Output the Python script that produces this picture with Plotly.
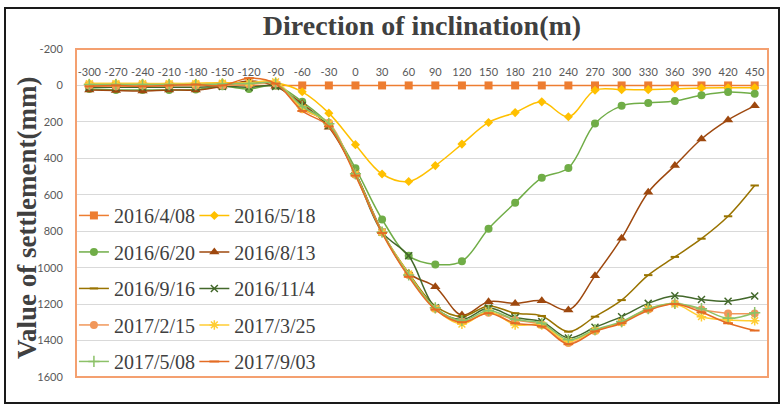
import plotly.graph_objects as go

x_cats = [-300, -270, -240, -210, -180, -150, -120, -90, -60, -30, 0, 30, 60, 90,
          120, 150, 180, 210, 240, 270, 300, 330, 360, 390, 420, 450]

s_20160408 = [0] * 26
s_20160518 = [-10, -10, -10, -10, -12, -15, -15, -15, 35, 152, 325, 486, 527, 440,
              322, 203, 149, 90, 172, 26, 23, 23, 19, 14, 13, 13]
s_20160620 = [20, 25, 25, 25, 22, 5, 20, 0, 90, 215, 455, 735, 935, 982,
              965, 786, 644, 507, 453, 209, 112, 96, 85, 54, 36, 45]
s_20160813 = [25, 28, 30, 25, 25, 5, -25, 5, 100, 230, 480, 800, 1030, 1105,
              1260, 1187, 1196, 1181, 1232, 1045, 838, 586, 440, 294, 189, 112]
s_20160916 = [-5, -5, -5, -5, -8, -10, -10, -10, 120, 215, 480, 805, 1030, 1210,
              1268, 1210, 1250, 1265, 1351, 1269, 1178, 1041, 941, 841, 718, 549]
s_20161104 = [10, 10, 10, 10, 10, 5, 10, 5, 110, 220, 485, 805, 935, 1220,
              1284, 1222, 1274, 1296, 1386, 1327, 1269, 1196, 1154, 1175, 1184, 1156]
s_20170215 = [0, 5, 0, 0, 0, 0, -5, -10, 130, 205, 490, 805, 1040, 1225,
              1297, 1247, 1287, 1314, 1414, 1348, 1300, 1230, 1196, 1230, 1251, 1251]
s_20170325 = [-10, -10, -10, -10, -10, -12, -15, -20, 125, 210, 485, 805, 1035, 1225,
              1310, 1240, 1314, 1314, 1405, 1345, 1300, 1225, 1200, 1269, 1287, 1291]
s_20170508 = [-5, -5, -5, -5, -5, -8, -10, -10, 115, 210, 485, 805, 1040, 1220,
              1290, 1235, 1285, 1305, 1396, 1340, 1296, 1225, 1196, 1225, 1278, 1247]
s_20170903 = [5, 0, 5, 0, -5, 0, -40, -10, 140, 225, 495, 810, 1050, 1230,
              1300, 1250, 1305, 1323, 1420, 1350, 1305, 1235, 1200, 1245, 1305, 1345]

y_ticks = [-200, 0, 200, 400, 600, 800, 1000, 1200, 1400, 1600]

series = [
    ("2016/4/08", s_20160408, "#ED7D31", dict(symbol="square", size=8), "legend"),
    ("2016/5/18", s_20160518, "#FFC000", dict(symbol="diamond", size=7), "legend2"),
    ("2016/6/20", s_20160620, "#70AD47", dict(symbol="circle", size=8), "legend"),
    ("2016/8/13", s_20160813, "#9E480E", dict(symbol="triangle-up", size=9), "legend2"),
    ("2016/9/16", s_20160916, "#997300", dict(symbol="line-ew", size=6), "legend"),
    ("2016/11/4", s_20161104, "#43682B", dict(symbol="x-thin", size=7), "legend2"),
    ("2017/2/15", s_20170215, "#F1975A", dict(symbol="circle", size=8), "legend"),
    ("2017/3/25", s_20170325, "#FFCD33", dict(symbol="asterisk", size=8), "legend2"),
    ("2017/5/08", s_20170508, "#8CC168", dict(symbol="cross-thin", size=8), "legend"),
    ("2017/9/03", s_20170903, "#E46C24", dict(symbol="line-ew", size=7), "legend2"),
]

fig = go.Figure()
for i, (name, vals, col, mk, lg) in enumerate(series):
    marker = dict(color=col, **mk)
    if mk["symbol"] in ("line-ew", "x-thin", "cross-thin", "asterisk"):
        marker["line"] = dict(color=col, width=2 if mk["symbol"] == "line-ew" else 1.5)
    fig.add_trace(go.Scatter(
        x=x_cats, y=vals, name=name, mode="lines+markers",
        line=dict(color=col, width=1.5, shape="spline"),
        marker=marker, legend=lg, legendgroup=name,
    ))

legend_font = dict(family="Liberation Serif", size=20, color="#404040")
fig.update_layout(
    width=782, height=411,
    margin=dict(l=76, r=14, t=49, b=34),
    paper_bgcolor="white", plot_bgcolor="white",
    title=dict(text="<b>Direction of inclination(m)</b>", x=(76 + 768) / 2 / 782, xanchor="center",
               y=1 - 25 / 411, yanchor="middle",
               font=dict(family="Liberation Serif", size=28, color="#404040")),
    legend=dict(x=-0.003, y=0.552, xanchor="left", yanchor="top", bgcolor="rgba(0,0,0,0)",
                font=legend_font, traceorder="grouped", tracegroupgap=7.5, itemwidth=30),
    legend2=dict(x=0.171, y=0.552, xanchor="left", yanchor="top", bgcolor="rgba(0,0,0,0)",
                 font=legend_font, traceorder="grouped", tracegroupgap=7.5, itemwidth=30),
    xaxis=dict(range=[-315, 465], tickvals=x_cats, ticktext=[str(v) for v in x_cats],
               anchor="free", position=1600 / 1800, side="top", showgrid=False,
               showline=False, zeroline=False, ticks="outside", ticklen=5,
               tickcolor="rgba(0,0,0,0)", automargin=False,
               tickfont=dict(family="Lato", size=11, color="#595959")),
    yaxis=dict(range=[1600, -200], tickvals=y_ticks, ticktext=[str(v) for v in y_ticks],
               showgrid=True, gridcolor="#D9D9D9", gridwidth=1, zeroline=False,
               showline=False, ticks="outside", ticklen=10, tickcolor="rgba(0,0,0,0)",
               automargin=False, tickfont=dict(family="Lato", size=11, color="#595959")),
    annotations=[dict(text="<b>Value of settlement(mm)</b>", textangle=-90,
                      xref="paper", yref="paper", x=(27 - 76) / 692, y=(377 - 218) / 328,
                      xanchor="center", yanchor="middle", showarrow=False,
                      font=dict(family="Liberation Serif", size=27, color="#404040"))],
    shapes=[
        dict(type="rect", xref="paper", yref="paper", x0=0, x1=1, y0=0, y1=1,
             line=dict(color="#F4A070", width=2), layer="above"),
        dict(type="rect", xref="paper", yref="paper",
             x0=(5 - 76) / 692, x1=(779 - 76) / 692, y0=(377 - 403) / 328, y1=(377 - 8) / 328,
             line=dict(color="#1a1a1a", width=2)),
    ],
)

fig.write_html("out.html")
